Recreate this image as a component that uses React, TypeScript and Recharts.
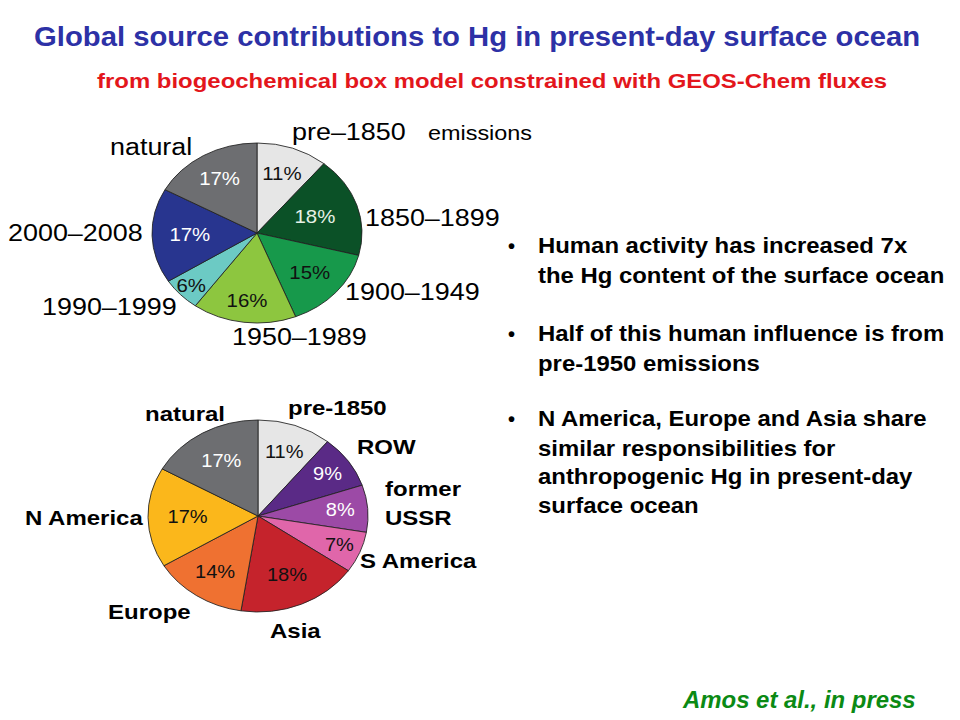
import { PieChart, Pie, Cell } from "recharts";

// Top pie: contributions by emission period (%)
const periodNames = ["pre–1850", "1850–1899", "1900–1949", "1950–1989", "1990–1999", "2000–2008", "natural"];
const periodShares = [11, 18, 15, 16, 6, 17, 17];

// Bottom pie: contributions by source region (%)
const regionNames = ["pre-1850", "ROW", "former USSR", "S America", "Asia", "Europe", "N America", "natural"];
const regionShares = [11, 9, 8, 7, 18, 14, 17, 17];

const bullets = [
  ["Human activity has increased 7x", "the Hg content of the surface ocean"],
  ["Half of this human influence is from", "pre-1950 emissions"],
  ["N America, Europe and Asia share", "similar responsibilities for", "anthropogenic Hg in present-day", "surface ocean"],
];

const FONT = '"Liberation Sans", Arial, Helvetica, sans-serif';

const PERIOD_FILL = ["#e6e6e6", "#0b5127", "#17994b", "#8dc63f", "#6ccac4", "#28358f", "#6d6e71"];
const PERIOD_TEXT = ["#111", "#e6f2e6", "#111", "#111", "#111", "#fff", "#fff"];
const PERIOD_R = [0.7, 0.58, 0.67, 0.76, 0.86, 0.64, 0.7];

const REGION_FILL = ["#e6e6e6", "#5a2a86", "#9c4aa6", "#e066aa", "#c5232c", "#ef7131", "#fbb71b", "#6d6e71"];
const REGION_TEXT = ["#111", "#fff", "#fff", "#111", "#111", "#111", "#111", "#fff"];
const REGION_R = [0.71, 0.77, 0.75, 0.8, 0.67, 0.7, 0.64, 0.66];

const RAD = Math.PI / 180;

function pctLabel(textColors: string[], radii: number[]) {
  return (p: any) => {
    const r = p.outerRadius * radii[p.index];
    const x = p.cx + r * Math.cos(-p.midAngle * RAD);
    const y = p.cy + r * Math.sin(-p.midAngle * RAD);
    return (
      <text
        x={x}
        y={y}
        fill={textColors[p.index]}
        textAnchor="middle"
        dominantBaseline="central"
        fontSize={17.5}
        fontFamily={FONT}
      >
        {p.value}%
      </text>
    );
  };
}

function Txt(props: {
  x: number;
  y: number;
  size: number;
  text: string;
  bold?: boolean;
  italic?: boolean;
  color?: string;
  sx?: number;
}) {
  return (
    <div
      style={{
        position: "absolute",
        left: props.x,
        top: props.y,
        fontFamily: FONT,
        fontSize: props.size,
        fontWeight: props.bold ? 700 : 400,
        fontStyle: props.italic ? "italic" : "normal",
        color: props.color || "#000",
        lineHeight: 1,
        whiteSpace: "nowrap",
        transform: `translateY(-50%) scaleX(${props.sx ?? 1})`,
        transformOrigin: "left center",
      }}
    >
      {props.text}
    </div>
  );
}

function EllipsePie(props: {
  names: string[];
  values: number[];
  fills: string[];
  texts: string[];
  radii: number[];
  cx: number;
  cy: number;
  rx: number;
  ry: number;
}) {
  const size = props.ry * 2 + 10;
  const data = props.names.map((name, i) => ({ name, value: props.values[i] }));
  return (
    <div
      style={{
        position: "absolute",
        left: props.cx - size / 2,
        top: props.cy - size / 2,
        width: size,
        height: size,
        transform: `scaleX(${props.rx / props.ry})`,
        transformOrigin: "center center",
      }}
    >
      <PieChart width={size} height={size} margin={{ top: 0, right: 0, bottom: 0, left: 0 }}>
        <Pie
          data={data}
          dataKey="value"
          nameKey="name"
          cx={size / 2}
          cy={size / 2}
          outerRadius={props.ry}
          startAngle={90}
          endAngle={-270}
          stroke="#222"
          strokeWidth={0.8}
          labelLine={false}
          label={pctLabel(props.texts, props.radii)}
          isAnimationActive={false}
        >
          {data.map((d, i) => (
            <Cell key={d.name} fill={props.fills[i]} />
          ))}
        </Pie>
      </PieChart>
    </div>
  );
}

const topLabelPos: Record<string, [number, number]> = {
  "pre–1850": [292, 132],
  "1850–1899": [365, 218],
  "1900–1949": [345, 292],
  "1950–1989": [232, 337],
  "1990–1999": [42, 307],
  "2000–2008": [8, 233],
  natural: [110, 147],
};

const bottomLabelPos: Record<string, [number, number]> = {
  "pre-1850": [288, 408],
  ROW: [357, 447],
  "S America": [360, 561],
  Asia: [270, 631],
  Europe: [108, 612],
  "N America": [25, 518],
  natural: [145, 414],
};

export default function App() {
  const bulletLineY = [
    [246, 276],
    [334, 364],
    [419, 449, 477, 506],
  ];
  return (
    <div
      style={{
        position: "absolute",
        left: 0,
        top: 0,
        width: 960,
        height: 720,
        background: "#fff",
        overflow: "hidden",
      }}
    >
      <Txt
        x={34}
        y={37}
        size={28}
        bold
        color="#2d31a6"
        sx={1.045}
        text="Global source contributions to Hg in present-day surface ocean"
      />
      <Txt
        x={97}
        y={80}
        size={21}
        bold
        color="#e3161c"
        sx={1.14}
        text="from biogeochemical box model constrained with GEOS-Chem fluxes"
      />

      <EllipsePie
        names={periodNames}
        values={periodShares}
        fills={PERIOD_FILL}
        texts={PERIOD_TEXT}
        radii={PERIOD_R}
        cx={257}
        cy={233}
        rx={105}
        ry={90}
      />
      {periodNames.map((n) => (
        <Txt key={n} x={topLabelPos[n][0]} y={topLabelPos[n][1]} size={23} sx={1.17} text={n} />
      ))}
      <Txt x={428} y={133} size={20} sx={1.17} text="emissions" />

      <EllipsePie
        names={regionNames}
        values={regionShares}
        fills={REGION_FILL}
        texts={REGION_TEXT}
        radii={REGION_R}
        cx={258}
        cy={516}
        rx={110}
        ry={96}
      />
      {regionNames
        .filter((n) => bottomLabelPos[n])
        .map((n) => (
          <Txt key={n} x={bottomLabelPos[n][0]} y={bottomLabelPos[n][1]} size={20.5} bold sx={1.17} text={n} />
        ))}
      <Txt x={385} y={489} size={20.5} bold sx={1.17} text="former" />
      <Txt x={385} y={518} size={20.5} bold sx={1.17} text="USSR" />

      {bullets.map((lines, bi) => (
        <div key={bi}>
          <Txt x={508} y={bulletLineY[bi][0]} size={20} bold text="•" />
          {lines.map((l, li) => (
            <Txt key={li} x={538} y={bulletLineY[bi][li]} size={22} bold sx={1.086} text={l} />
          ))}
        </div>
      ))}

      <Txt x={683} y={700} size={23} bold italic color="#0b8a14" sx={1.04} text="Amos et al., in press" />
    </div>
  );
}
